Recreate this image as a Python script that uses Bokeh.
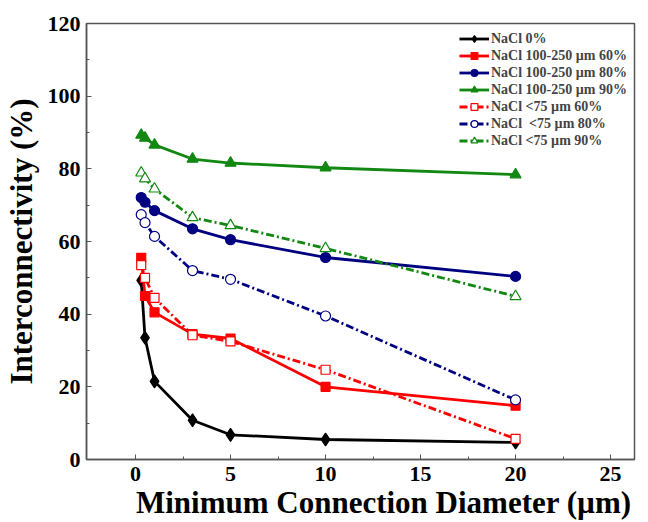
from bokeh.plotting import figure
from bokeh.models import Range1d, Legend, LegendItem, FixedTicker
from bokeh.embed import file_html
from bokeh.resources import INLINE

x = [0.3, 0.5, 1, 3, 5, 10, 20]
nacl0 = [49.3, 33.5, 21.5, 10.8, 6.8, 5.5, 4.7]
big60 = [55.5, 45.0, 40.5, 34.5, 33.3, 20.0, 14.8]
big80 = [72.1, 70.8, 68.5, 63.5, 60.5, 55.6, 50.4]
big90 = [89.3, 88.5, 86.6, 82.7, 81.6, 80.3, 78.4]
small60 = [53.5, 50.0, 44.5, 34.2, 32.5, 24.7, 5.7]
small80 = [67.4, 65.2, 61.4, 52.0, 49.6, 39.5, 16.4]
small90 = [78.9, 77.3, 74.5, 66.6, 64.4, 58.1, 44.9]
labels = ["NaCl 0%", "NaCl 100-250 \u00b5m 60%", "NaCl 100-250 \u00b5m 80%",
          "NaCl 100-250 \u00b5m 90%", "NaCl <75 \u00b5m 60%", "NaCl  <75 \u00b5m 80%",
          "NaCl <75 \u00b5m 90%"]
x_ticks = [0, 5, 10, 15, 20, 25]
y_ticks = [0, 20, 40, 60, 80, 100, 120]
x_title = "Minimum Connection Diameter (\u00b5m)"
y_title = "Interconnectivity (%)"

FONT = "Liberation Serif"
p = figure(width=644, height=522, output_backend="svg", toolbar_location=None,
           x_range=Range1d(-2.58, 26.26), y_range=Range1d(0, 120),
           min_border_left=86, min_border_right=10, min_border_top=23, min_border_bottom=62)
p.grid.visible = False
p.outline_line_color = "#555555"
p.outline_line_width = 1.5

for ax in (p.xaxis[0], p.yaxis[0]):
    ax.major_label_text_font = FONT
    ax.major_label_text_font_style = "bold"
    ax.major_label_text_font_size = "22px"
    ax.major_label_text_color = "black"
    ax.axis_label_text_font = FONT
    ax.axis_label_text_font_style = "bold"
    ax.axis_label_text_font_size = "31px"
    ax.axis_label_text_color = "black"
    ax.axis_line_color = "#555555"
    ax.axis_line_width = 1.5
    ax.major_tick_in = 5
    ax.major_tick_out = 0
    ax.minor_tick_in = 3
    ax.minor_tick_out = 0
    ax.major_tick_line_color = "#555555"
    ax.minor_tick_line_color = "#555555"

p.xaxis.ticker = FixedTicker(ticks=x_ticks, minor_ticks=[2.5, 7.5, 12.5, 17.5, 22.5])
p.yaxis.ticker = FixedTicker(ticks=y_ticks, minor_ticks=[10, 30, 50, 70, 90, 110])
# leading no-break spaces shift the centred title right, as in the reference
p.xaxis.axis_label = "\u00a0" * 6 + x_title
p.yaxis.axis_label = y_title
p.xaxis.major_label_standoff = 7
p.yaxis.major_label_standoff = 6
p.xaxis.axis_label_standoff = 1
p.yaxis.axis_label_standoff = 6

specs = [
    (nacl0, "black", "solid", "diamond", True, 13),
    (big60, "#ff0000", "solid", "square", True, 9),
    (big80, "#000080", "solid", "circle", True, 10),
    (big90, "#118811", "solid", "triangle", True, 11),
    (small60, "#ff0000", "8 3 2 3", "square", False, 9),
    (small80, "#000080", "8 3 2 3", "circle", False, 10),
    (small90, "#118811", "8 3 2 3", "triangle", False, 11),
]
items = []
for (ys, col, dash, mk, filled, sz), lab in zip(specs, labels):
    ln = p.line(x, ys, line_color=col, line_width=2.8, line_dash=dash)
    sc = p.scatter(x, ys, marker=mk, size=sz, line_color=col, line_width=1.2,
                   fill_color=col if filled else "white")
    items.append(LegendItem(label=lab, renderers=[ln, sc]))

legend = Legend(items=items, location="top_right")
legend.label_text_font = FONT
legend.label_text_font_style = "bold"
legend.label_text_font_size = "14px"
legend.border_line_color = None
legend.background_fill_alpha = 0
legend.spacing = 0
legend.label_height = 17
legend.glyph_height = 17
legend.glyph_width = 30
legend.label_standoff = 2
legend.padding = 4
legend.margin = 7
p.add_layout(legend)

open("out.html", "w").write(file_html(p, INLINE))
